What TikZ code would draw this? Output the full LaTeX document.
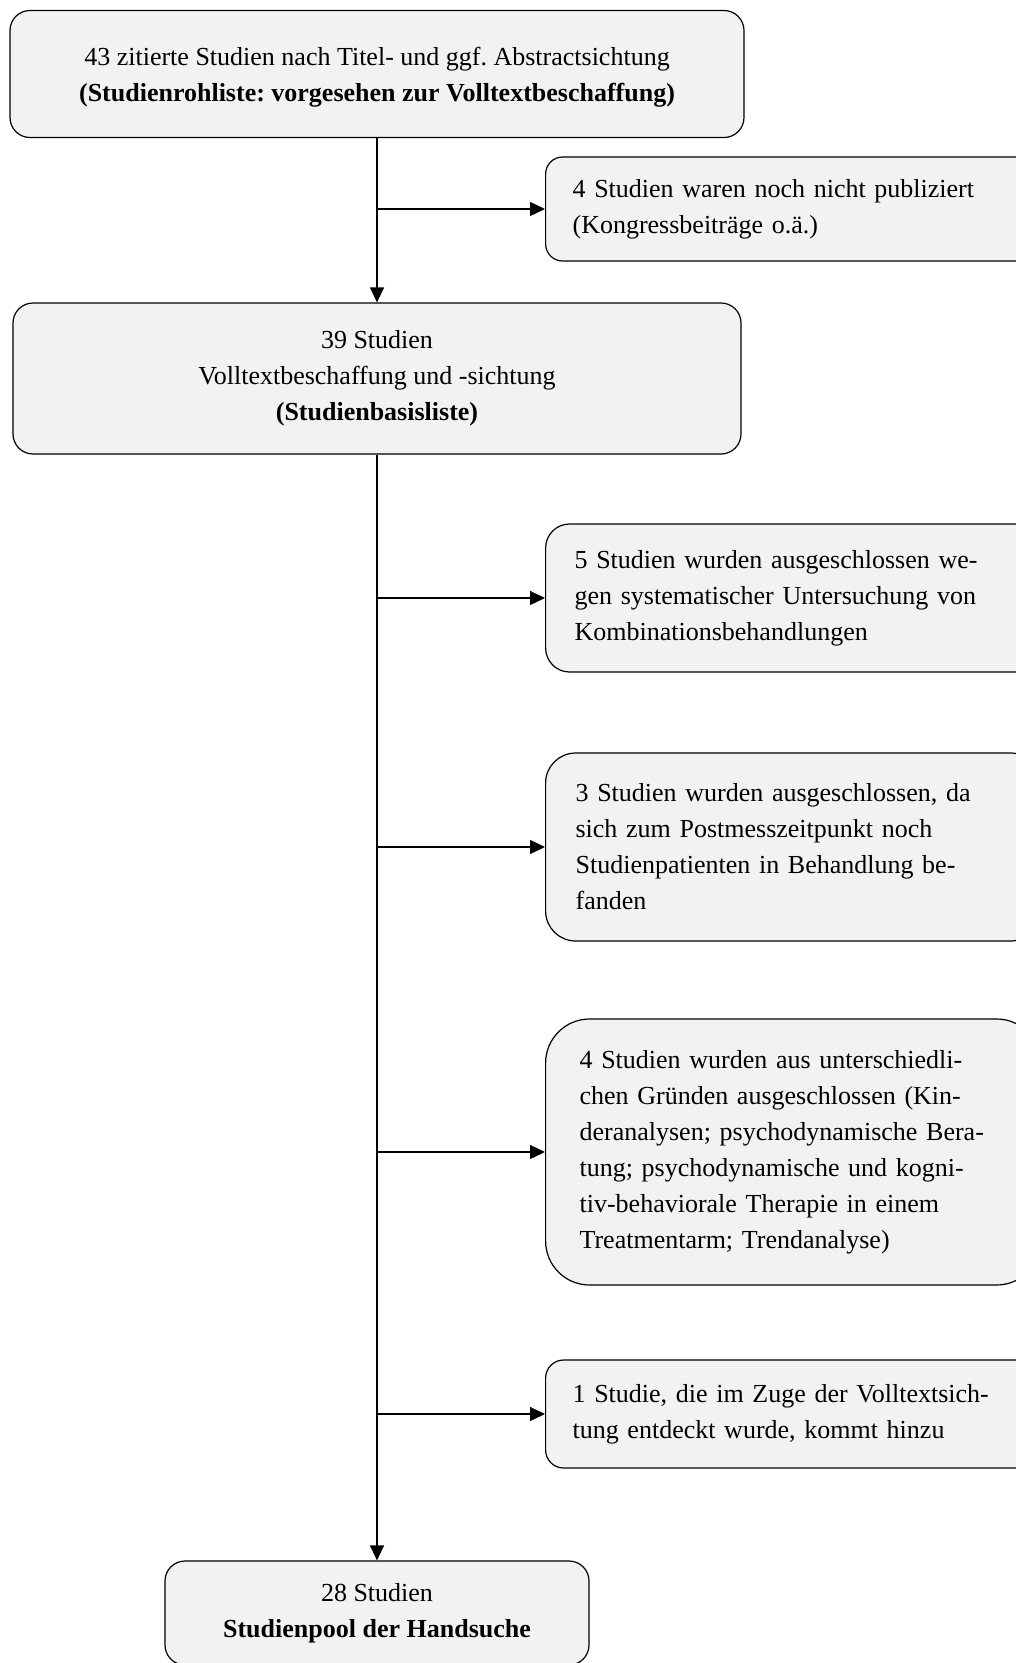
\documentclass[tikz,border=0pt]{standalone}
\usepackage{fontspec}
\setmainfont{Liberation Serif}
\usetikzlibrary{arrows.meta}
\definecolor{boxgray}{HTML}{F2F2F2}
\frenchspacing

\begin{document}
\begin{tikzpicture}[x=1pt,y=-1pt,
  font=\fontsize{26}{36}\selectfont,
  mainbox/.style={draw, line width=1.2pt, fill=boxgray, rounded corners=20pt, align=center, inner sep=0pt},
  sidebox/.style={draw, line width=1.2pt, fill=boxgray, rounded corners=18pt, align=left, anchor=west,
    minimum width=473pt, text width=441pt, inner xsep=27pt, inner ysep=0pt},
  flow/.style={-{Triangle[length=15pt,width=14pt]}, line width=1.2pt}]
\clip (0,0) rectangle (1016,1663);
\fill[white] (0,0) rectangle (1016,1663);

\node[mainbox, minimum width=734pt, minimum height=127pt, text depth=-2pt] (rohliste) at (377,74)
  {43 zitierte Studien nach Titel- und ggf. Abstractsichtung\\ \textbf{(Studienrohliste: vorgesehen zur Volltextbeschaffung)}};
\node[mainbox, minimum width=728pt, minimum height=151pt] (basis) at (377,378.5)
  {39 Studien\\ Volltextbeschaffung und -sichtung\\ \textbf{(Studienbasisliste)}};
\node[mainbox, minimum width=424pt, minimum height=104pt] (pool) at (377,1613)
  {28 Studien\\ \textbf{Studienpool der Handsuche}};

\node[sidebox, minimum height=104pt, rounded corners=17pt] (unpubl) at (545,209)
  {4 Studien waren noch nicht publiziert\\ (Kongressbeitr\"age o.\"a.)};
\node[sidebox, minimum height=148pt, rounded corners=24pt, inner xsep=29pt, text width=437pt] (kombi) at (545,598)
  {5 Studien wurden ausgeschlossen we-\\ gen systematischer Untersuchung von\\ Kombinationsbehandlungen};
\node[sidebox, minimum height=188pt, rounded corners=30pt, inner xsep=30pt, text width=435pt] (behandl) at (545,847)
  {3 Studien wurden ausgeschlossen, da\\ sich zum Postmesszeitpunkt noch\\ Studienpatienten in Behandlung be-\\ fanden};
\node[sidebox, minimum height=266pt, rounded corners=44pt, inner xsep=34pt, text width=427pt] (gruende) at (545,1152)
  {4 Studien wurden aus unterschiedli-\\ chen Gr\"unden ausgeschlossen (Kin-\\ deranalysen; psychodynamische Bera-\\ tung; psychodynamische und kogni-\\ tiv-behaviorale Therapie in einem\\ Treatmentarm; Trendanalyse)};
\node[sidebox, minimum height=108pt, rounded corners=18pt] (hinzu) at (545,1414)
  {1 Studie, die im Zuge der Volltextsich-\\ tung entdeckt wurde, kommt hinzu};

\coordinate (k1) at (377,209);
\coordinate (k2) at (377,598);
\coordinate (k3) at (377,847);
\coordinate (k4) at (377,1152);
\coordinate (k5) at (377,1414);

\draw[flow] (rohliste) -- (basis);
\draw[flow] (basis) -- (pool);
\draw[flow] (k1) -- (unpubl);
\draw[flow] (k2) -- (kombi);
\draw[flow] (k3) -- (behandl);
\draw[flow] (k4) -- (gruende);
\draw[flow] (k5) -- (hinzu);
\end{tikzpicture}
\end{document}
